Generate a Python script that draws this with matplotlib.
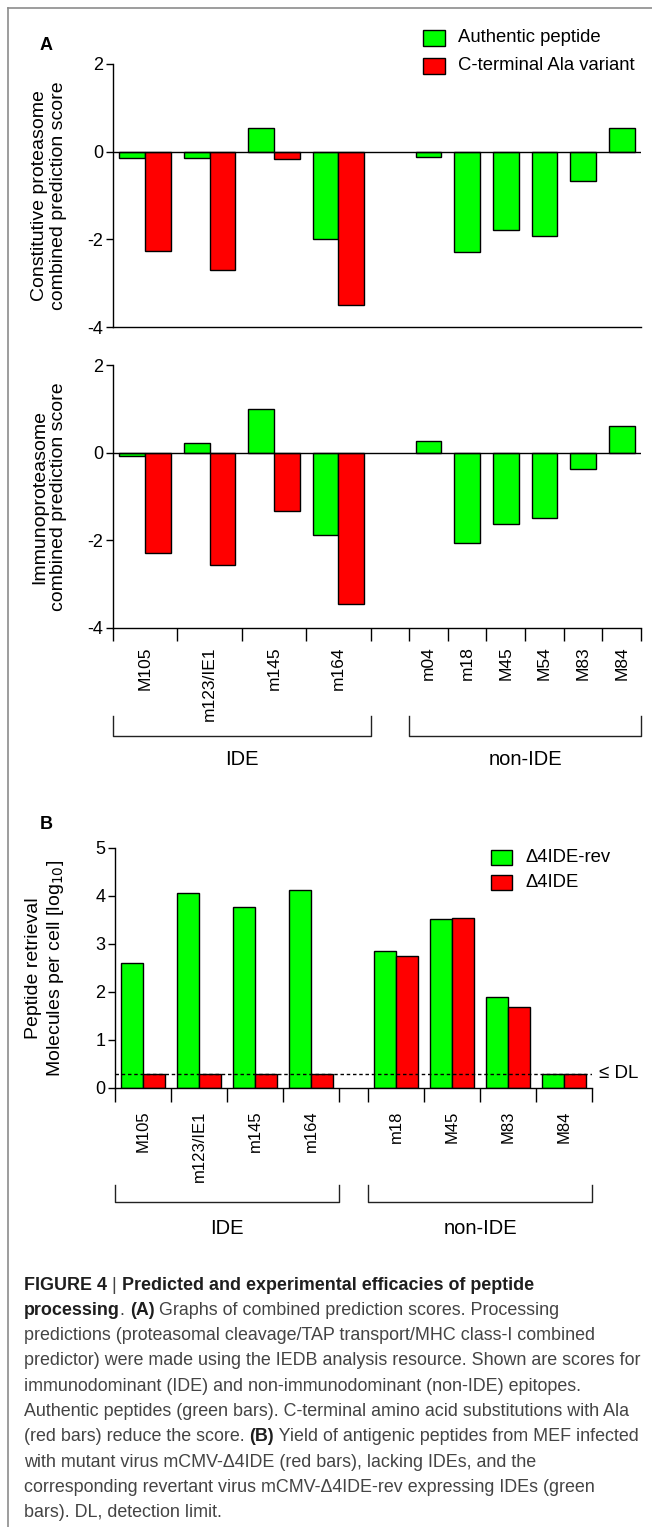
import numpy as np
import matplotlib
matplotlib.use("Agg")
import matplotlib.pyplot as plt
from matplotlib.patches import Rectangle
from matplotlib.lines import Line2D
from matplotlib.transforms import blended_transform_factory

# panel A: combined prediction scores
ide_a = ["M105", "m123/IE1", "m145", "m164"]
non_ide_a = ["m04", "m18", "M45", "M54", "M83", "M84"]
const_auth = [-0.14, -0.15, 0.53, -2.00, -0.12, -2.30, -1.79, -1.92, -0.67, 0.53]
const_ala = [-2.26, -2.70, -0.17, -3.50]
immuno_auth = [-0.08, 0.22, 1.00, -1.88, 0.26, -2.06, -1.62, -1.48, -0.38, 0.61]
immuno_ala = [-2.28, -2.57, -1.34, -3.45]

# panel B: peptide retrieval (log10 molecules per cell)
ide_b = ["M105", "m123/IE1", "m145", "m164"]
non_ide_b = ["m18", "M45", "M83", "M84"]
rev_vals = [2.60, 4.07, 3.77, 4.12, 2.86, 3.52, 1.89, 0.30]
del_vals = [0.30, 0.30, 0.30, 0.30, 2.76, 3.54, 1.69, 0.30]
dl = 0.3

GREEN = "#00ff00"
RED = "#ff0000"
W, H = 652, 1527

plt.rcParams["font.family"] = ["Liberation Sans", "DejaVu Sans"]
plt.rcParams["axes.unicode_minus"] = False

fig = plt.figure(figsize=(W / 100, H / 100), dpi=100)


def fx(x):
    return x / W


def fy(y):
    return 1 - y / H


def axes_px(left, top, right, bottom):
    return fig.add_axes([fx(left), fy(bottom), (right - left) / W, (bottom - top) / H])


def layout(n_ide, n_non, w_ide, w_non, gap):
    e_ide = np.arange(n_ide + 1) * w_ide
    e_non = e_ide[-1] + gap + np.arange(n_non + 1) * w_non
    starts = np.concatenate([e_ide[:-1], e_non[:-1]])
    widths = np.array([w_ide] * n_ide + [w_non] * n_non)
    return e_ide, e_non, starts, starts + widths / 2


def style_axes(ax):
    for s in ["top", "right"]:
        ax.spines[s].set_visible(False)
    ax.spines["left"].set_linewidth(1)
    ax.spines["bottom"].set_linewidth(1)
    ax.tick_params(axis="y", direction="out", length=5, width=1, labelsize=13, pad=2)


def bracket(ax, x0, x1, y_top, y_bot, y_lab, label):
    tr = blended_transform_factory(ax.transData, fig.transFigure)
    ax.plot([x0, x0, x1, x1], [fy(y_top), fy(y_bot), fy(y_bot), fy(y_top)],
            color="#222222", lw=1, transform=tr, clip_on=False)
    ax.text((x0 + x1) / 2, fy(y_lab), label, transform=tr, ha="center", va="center",
            fontsize=14.5)


# ---- panel A ----
e_ide_a, e_non_a, starts_a, centers_a = layout(4, 6, 2.5, 1.5, 1.5)


def score_panel(top, bottom, auth, ala, ylabel, show_x):
    ax = axes_px(113, top, 641, bottom)
    ax.bar(starts_a + 0.75, auth, width=1, color=GREEN, edgecolor="black", lw=1)
    ax.bar(starts_a[:4] + 1.75, ala, width=1, color=RED, edgecolor="black", lw=1)
    ax.axhline(0, color="black", lw=1)
    ax.set_xlim(0, e_non_a[-1])
    ax.set_ylim(-4, 2)
    ax.set_yticks([-4, -2, 0, 2])
    ax.set_yticklabels(["-4", "-2", "0", "2"])
    style_axes(ax)
    if show_x:
        ax.set_xticks(np.concatenate([e_ide_a, e_non_a]))
        ax.set_xticklabels([])
        ax.set_xticks(centers_a, ide_a + non_ide_a, minor=True, rotation=90,
                      va="top", fontsize=12.5)
        ax.tick_params(axis="x", which="major", direction="out", length=9.5, width=1)
        ax.tick_params(axis="x", which="minor", length=0, pad=13)
    else:
        ax.set_xticks([])
    fig.text(fx(49), fy((top + bottom) / 2), ylabel, rotation=90, ha="center",
             va="center", fontsize=14, linespacing=1.15)
    return ax


ax1 = score_panel(64, 327, const_auth, const_ala,
                  "Constitutive proteasome\ncombined prediction score", False)
ax2 = score_panel(365, 628, immuno_auth, immuno_ala,
                  "Immunoproteasome\ncombined prediction score", True)
bracket(ax2, e_ide_a[0], e_ide_a[-1], 716, 736, 760, "IDE")
bracket(ax2, e_non_a[0], e_non_a[-1], 716, 736, 760, "non-IDE")

fig.text(fx(40), fy(46), "A", fontsize=13, fontweight="bold", ha="left", va="center")

# legend A
for i, (c, lab) in enumerate([(GREEN, "Authentic peptide"), (RED, "C-terminal Ala variant")]):
    yc = 38 + 28 * i
    fig.add_artist(Rectangle((fx(423), fy(yc + 8)), 22 / W, 16 / H, facecolor=c,
                             edgecolor="black", lw=1, transform=fig.transFigure))
    fig.text(fx(458), fy(yc), lab, fontsize=13.3, ha="left", va="center")

# ---- panel B ----
e_ide_b, e_non_b, starts_b, centers_b = layout(4, 4, 2.5, 2.5, 1.3)
ax3 = axes_px(115, 848, 592, 1088)
ax3.bar(starts_b + 0.75, rev_vals, width=1, color=GREEN, edgecolor="black", lw=1)
ax3.bar(starts_b + 1.75, del_vals, width=1, color=RED, edgecolor="black", lw=1)
ax3.axhline(dl, color="black", lw=1, ls=(0, (2.5, 2)))
ax3.set_xlim(0, e_non_b[-1])
ax3.set_ylim(0, 5)
ax3.set_yticks(range(6))
style_axes(ax3)
ax3.set_xticks(np.concatenate([e_ide_b, e_non_b]))
ax3.set_xticklabels([])
ax3.set_xticks(centers_b, ide_b + non_ide_b, minor=True, rotation=90, va="top",
               fontsize=12)
ax3.tick_params(axis="x", which="major", direction="out", length=10, width=1)
ax3.tick_params(axis="x", which="minor", length=0, pad=16)
ax3.text(1.015, dl, "\u2264 DL", transform=blended_transform_factory(ax3.transAxes, ax3.transData),
         ha="left", va="center", fontsize=13.5)
fig.text(fx(46), fy(968), "Peptide retrieval\nMolecules per cell [log$_{10}$]", rotation=90,
         ha="center", va="center", fontsize=14, linespacing=1.2)
bracket(ax3, e_ide_b[0], e_ide_b[-1], 1185, 1202, 1228, "IDE")
bracket(ax3, e_non_b[0], e_non_b[-1], 1185, 1202, 1228, "non-IDE")

fig.text(fx(40), fy(825), "B", fontsize=13, fontweight="bold", ha="left", va="center")

for i, (c, lab) in enumerate([(GREEN, "\u03944IDE-rev"), (RED, "\u03944IDE")]):
    yc = 858 + 24 * i
    fig.add_artist(Rectangle((fx(491), fy(yc + 7.5)), 21 / W, 15 / H, facecolor=c,
                             edgecolor="black", lw=1, transform=fig.transFigure))
    fig.text(fx(526), fy(yc), lab, fontsize=13.3, ha="left", va="center")

# ---- frame ----
fig.add_artist(Line2D([fx(8), 1], [fy(8), fy(8)], color="#8c8c8c", lw=1.2,
                      transform=fig.transFigure))
fig.add_artist(Line2D([fx(8), fx(8)], [fy(8), 0], color="#8c8c8c", lw=1.2,
                      transform=fig.transFigure))

# ---- caption ----
renderer = fig.canvas.get_renderer()
CAP = 12.9
N, B = "#444444", "#1e1e1e"


def seg_width(txt, bold):
    w = []
    for s in [txt + "|", "|"]:
        t = fig.text(0, 0, s, fontsize=CAP, fontweight="bold" if bold else "normal")
        w.append(t.get_window_extent(renderer).width)
        t.remove()
    return w[0] - w[1]


caption = [
    [("FIGURE 4", True), (" | ", False), ("Predicted and experimental efficacies of peptide", True)],
    [("processing", True), (". ", False), ("(A)", True), (" Graphs of combined prediction scores. Processing", False)],
    [("predictions (proteasomal cleavage/TAP transport/MHC class-I combined", False)],
    [("predictor) were made using the IEDB analysis resource. Shown are scores for", False)],
    [("immunodominant (IDE) and non-immunodominant (non-IDE) epitopes.", False)],
    [("Authentic peptides (green bars). C-terminal amino acid substitutions with Ala", False)],
    [("(red bars) reduce the score. ", False), ("(B)", True), (" Yield of antigenic peptides from MEF infected", False)],
    [("with mutant virus mCMV-\u03944IDE (red bars), lacking IDEs, and the", False)],
    [("corresponding revertant virus mCMV-\u03944IDE-rev expressing IDEs (green", False)],
    [("bars). DL, detection limit.", False)],
]

for i, line in enumerate(caption):
    x = 24
    y = 1285 + 25.3 * i
    for txt, bold in line:
        fig.text(fx(x), fy(y), txt, fontsize=CAP, fontweight="bold" if bold else "normal",
                 color=B if bold else N, ha="left", va="center")
        x += seg_width(txt, bold)

fig.savefig("out.png", dpi=100)
